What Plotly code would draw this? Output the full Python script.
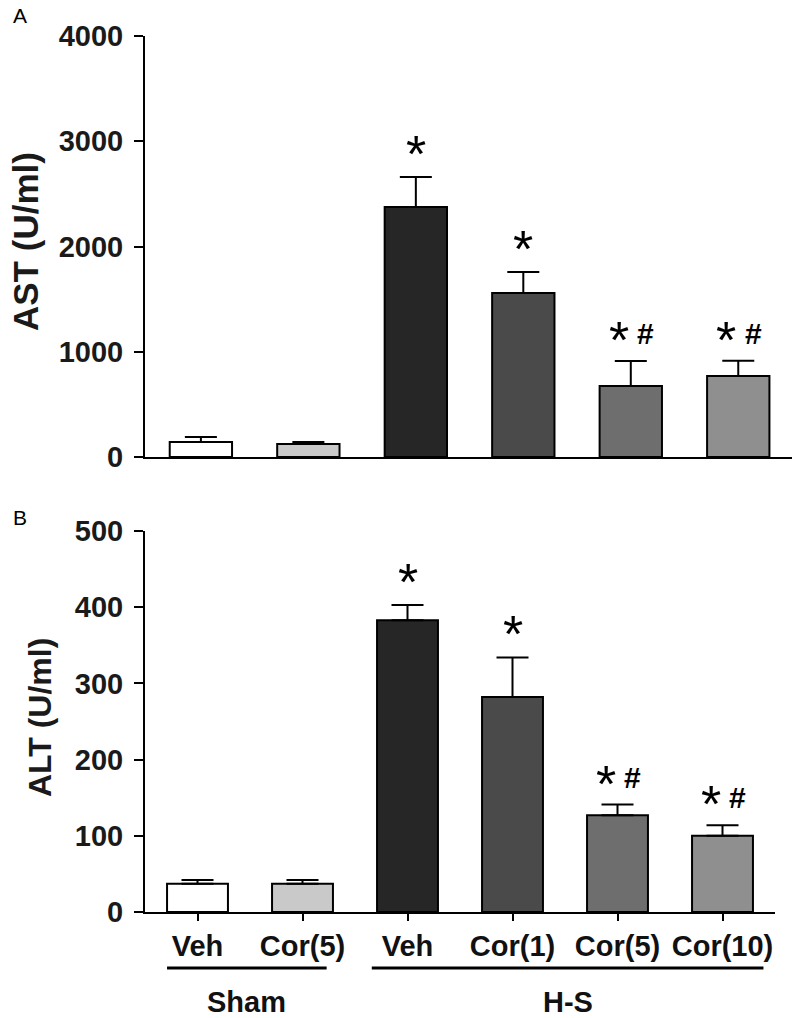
import plotly.graph_objects as go

# ---- data ----
groups = ["Veh", "Cor(5)", "Veh", "Cor(1)", "Cor(5)", "Cor(10)"]
ast_mean = [143, 124, 2375, 1558, 675, 770]
ast_err = [47, 19, 285, 200, 237, 145]
alt_mean = [37, 37, 383, 282, 127, 100]
alt_err = [5, 5, 20, 52, 14, 14]
sig_labels = ["", "", "*", "*", "*#", "*#"]
bar_colors = ["#ffffff", "#c9c9c9", "#262626", "#4a4a4a", "#6e6e6e", "#8f8f8f"]
group_names = ["Sham", "H-S"]
group_spans = [(-0.29, 1.23), (1.66, 5.39)]

W, H = 800, 1018
FONT = "Liberation Sans, Arial, sans-serif"
xs = list(range(len(groups)))


def px(p):  # pixel x -> paper fraction
    return p / W


def py(p):  # pixel y (from top) -> paper fraction
    return 1 - p / H


fig = go.Figure()
for mean, err, xa, ya in [(ast_mean, ast_err, "x", "y"), (alt_mean, alt_err, "x2", "y2")]:
    fig.add_trace(go.Bar(
        x=xs, y=mean, xaxis=xa, yaxis=ya, width=0.58,
        marker=dict(color=bar_colors, line=dict(color="black", width=2)),
        error_y=dict(type="data", array=err, arrayminus=[0] * len(err), symmetric=False,
                     color="black", thickness=2, width=16),
        showlegend=False, hoverinfo="skip",
    ))

annotations = []
for mean, err, xa, ya in [(ast_mean, ast_err, "x", "y"), (alt_mean, alt_err, "x2", "y2")]:
    for i, s in enumerate(sig_labels):
        if not s:
            continue
        top = mean[i] + err[i]
        if s == "*":
            annotations.append(dict(x=i, y=top, xref=xa, yref=ya, text="*", showarrow=False,
                                    font=dict(family=FONT, size=52, color="black"),
                                    xanchor="center", yanchor="bottom", yshift=-8))
        else:
            annotations.append(dict(x=i, y=top, xref=xa, yref=ya, text="*", showarrow=False,
                                    font=dict(family=FONT, size=52, color="black"),
                                    xanchor="center", yanchor="bottom", yshift=-10, xshift=-12))
            annotations.append(dict(x=i, y=top, xref=xa, yref=ya, text="<b>#</b>", showarrow=False,
                                    font=dict(family=FONT, size=30, color="black"),
                                    xanchor="center", yanchor="bottom", yshift=9, xshift=15))

# y axis titles
annotations.append(dict(x=px(26), y=py(242), xref="paper", yref="paper", text="<b>AST (U/ml)</b>",
                        textangle=-90, showarrow=False, xanchor="center", yanchor="middle",
                        font=dict(family=FONT, size=35, color="#1a1a1a")))
annotations.append(dict(x=px(40), y=py(718), xref="paper", yref="paper", text="<b>ALT (U/ml)</b>",
                        textangle=-90, showarrow=False, xanchor="center", yanchor="middle",
                        font=dict(family=FONT, size=32, color="#1a1a1a")))
# panel letters
annotations.append(dict(x=px(20), y=py(15), xref="paper", yref="paper", text="A", showarrow=False,
                        xanchor="center", yanchor="middle", font=dict(family=FONT, size=21, color="black")))
annotations.append(dict(x=px(20), y=py(517), xref="paper", yref="paper", text="B", showarrow=False,
                        xanchor="center", yanchor="middle", font=dict(family=FONT, size=21, color="black")))

shapes = []
for name, (x0, x1) in zip(group_names, group_spans):
    shapes.append(dict(type="line", xref="x2", yref="paper", x0=x0, x1=x1, y0=py(968), y1=py(968),
                       line=dict(color="black", width=3)))
    annotations.append(dict(x=(x0 + x1) / 2, y=py(1002), xref="x2", yref="paper", text="<b>" + name + "</b>",
                            showarrow=False, xanchor="center", yanchor="middle",
                            font=dict(family=FONT, size=29, color="#111111")))

axis_common = dict(showline=True, linecolor="black", linewidth=2, showgrid=False, zeroline=False,
                   automargin=False)
tickfont = dict(family=FONT, size=29, color="#1a1a1a", weight="bold")

fig.update_layout(
    template="none",
    width=W, height=H, margin=dict(l=0, r=0, t=0, b=0, pad=0, autoexpand=False),
    paper_bgcolor="white", plot_bgcolor="white",
    xaxis=dict(domain=[px(145), px(792)], range=[-0.52, 5.5], anchor="y", showticklabels=False,
               ticks="", **axis_common),
    yaxis=dict(domain=[py(457), py(36)], range=[0, 4000], anchor="x", tickvals=[0, 1000, 2000, 3000, 4000],
               ticks="outside", ticklen=9, tickwidth=2, tickcolor="black", tickfont=tickfont,
               ticklabelstandoff=5, **axis_common),
    xaxis2=dict(domain=[px(145), px(775)], range=[-0.5, 5.5], anchor="y2", tickvals=xs, ticktext=groups,
                ticks="outside", ticklen=7, tickwidth=2, tickcolor="black", ticklabelstandoff=0,
                tickfont=dict(family=FONT, size=29, color="#111111", weight="bold"), **axis_common),
    yaxis2=dict(domain=[py(912), py(531)], range=[0, 500], anchor="x2", tickvals=[0, 100, 200, 300, 400, 500],
                ticks="outside", ticklen=9, tickwidth=2, tickcolor="black", tickfont=tickfont,
                ticklabelstandoff=5, **axis_common),
    annotations=annotations, shapes=shapes,
)

fig.write_html("out.html", config={"displayModeBar": False},
               post_script="document.body.style.margin='0px';")
